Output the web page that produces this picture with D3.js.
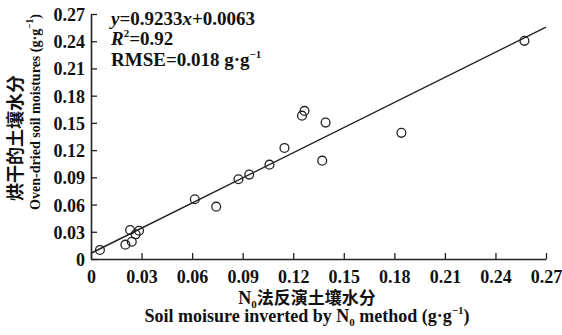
<!DOCTYPE html>
<html>
<head>
<meta charset="utf-8">
<script src="https://cdn.jsdelivr.net/npm/d3@7"></script>
<style>
  body { margin: 0; background: #fff; }
  svg text { font-family: "Liberation Serif", "Times New Roman", serif; fill: #111; }
  .cjk { font-family: "Noto Sans CJK SC", sans-serif; }
</style>
</head>
<body>
<div id="chart"></div>
<script>
// N0 inverted soil moisture (x) vs oven-dried soil moisture (y), g/g
var n0Moisture = [0.0053, 0.0204, 0.0232, 0.0242, 0.0265, 0.0285, 0.0616, 0.0743,
    0.0875, 0.0939, 0.1059, 0.1148, 0.1252, 0.1267, 0.1372, 0.1392, 0.1842, 0.2572];
var ovenMoisture = [0.0100, 0.0158, 0.0320, 0.0190, 0.0272, 0.0312, 0.0658, 0.0577,
    0.0879, 0.0930, 0.1040, 0.1224, 0.1580, 0.1632, 0.1084, 0.1503, 0.1390, 0.2404];
var tickValues = [0, 0.03, 0.06, 0.09, 0.12, 0.15, 0.18, 0.21, 0.24, 0.27];
var slope = 0.9233, intercept = 0.0063;

var margin = {top: 14, right: 16, bottom: 76, left: 91};
var width = 562 - margin.left - margin.right;
var height = 335 - margin.top - margin.bottom;

var svg = d3.select("#chart").append("svg")
    .attr("width", 562)
    .attr("height", 335);
var g = svg.append("g")
    .attr("transform", "translate(" + margin.left + "," + margin.top + ")");

var x = d3.scaleLinear().domain([0, 0.27]).range([0, width]);
var y = d3.scaleLinear().domain([0, 0.27]).range([height, 0]);

var fmt = function(d) { return d === 0 ? "0" : d3.format(".2f")(d); };

var xAxis = g.append("g")
    .attr("transform", "translate(0," + height + ")")
    .call(d3.axisBottom(x).tickValues(tickValues).tickFormat(fmt).tickSizeInner(-6).tickSizeOuter(0).tickPadding(11));
var yAxis = g.append("g")
    .call(d3.axisLeft(y).tickValues(tickValues).tickFormat(fmt).tickSizeInner(-6).tickSizeOuter(0).tickPadding(6));

[xAxis, yAxis].forEach(function(a) {
    a.select(".domain").attr("stroke", "#222").attr("stroke-width", 1.6);
    a.selectAll(".tick line").attr("stroke", "#222").attr("stroke-width", 1.3);
    a.selectAll(".tick text")
        .style("font-family", "'Liberation Serif', serif")
        .style("font-size", "18px")
        .style("font-weight", "bold")
        .attr("fill", "#111");
});
xAxis.selectAll(".tick text").attr("dy", "0.71em");
yAxis.selectAll(".tick text").attr("dy", "0.36em");

// regression line
g.append("line")
    .attr("x1", x(0)).attr("y1", y(intercept))
    .attr("x2", x(0.27)).attr("y2", y(slope * 0.27 + intercept))
    .attr("stroke", "#222")
    .attr("stroke-width", 1.5);

var points = n0Moisture.map(function(d, i) { return {x: d, y: ovenMoisture[i]}; });
g.selectAll(".pt")
    .data(points)
    .enter().append("circle")
    .attr("class", "pt")
    .attr("cx", function(d) { return x(d.x); })
    .attr("cy", function(d) { return y(d.y); })
    .attr("r", 4.4)
    .attr("fill", "none")
    .attr("stroke", "#222")
    .attr("stroke-width", 1.3);

// annotation
var ann = svg.append("g").attr("font-size", 19).attr("font-weight", "bold");
var t1 = ann.append("text").attr("x", 111).attr("y", 25);
t1.append("tspan").attr("font-style", "italic").text("y");
t1.append("tspan").text("=0.9233");
t1.append("tspan").attr("font-style", "italic").text("x");
t1.append("tspan").text("+0.0063");
var t2 = ann.append("text").attr("x", 111).attr("y", 45);
t2.append("tspan").attr("font-style", "italic").text("R");
t2.append("tspan").attr("font-size", 11).attr("dy", -8).text("2");
t2.append("tspan").attr("dy", 8).text("=0.92");
var t3 = ann.append("text").attr("x", 111).attr("y", 66);
t3.append("tspan").text("RMSE=0.018 g·g");
t3.append("tspan").attr("font-size", 11).attr("dy", -8).text("−1");

// x axis titles
var xt1 = svg.append("text")
    .attr("x", 307).attr("y", 304)
    .attr("text-anchor", "middle")
    .attr("font-size", 17);
xt1.append("tspan").attr("font-weight", "bold").attr("font-size", 18).text("N");
xt1.append("tspan").attr("font-size", 11).attr("dy", 4).attr("font-weight", "bold").text("0");
xt1.append("tspan").attr("class", "cjk").attr("dy", -4).attr("font-weight", "bold").text("法反演土壤水分");

var xt2 = svg.append("text")
    .attr("x", 307).attr("y", 322)
    .attr("text-anchor", "middle")
    .attr("font-size", 18)
    .attr("font-weight", "bold");
xt2.append("tspan").text("Soil moisure inverted by N");
xt2.append("tspan").attr("font-size", 11).attr("dy", 4).text("0");
xt2.append("tspan").attr("dy", -4).text(" method (g·g");
xt2.append("tspan").attr("font-size", 11).attr("dy", -8).text("−1");
xt2.append("tspan").attr("dy", 8).text(")");

// y axis titles
svg.append("text")
    .attr("class", "cjk")
    .attr("transform", "translate(22,138) rotate(-90)")
    .attr("text-anchor", "middle")
    .attr("font-size", 18)
    .attr("font-weight", "bold")
    .text("烘干的土壤水分");

var yt2 = svg.append("text")
    .attr("transform", "translate(40,112) rotate(-90)")
    .attr("text-anchor", "middle")
    .attr("font-size", 15)
    .attr("font-weight", "bold")
    .attr("textLength", 196)
    .attr("lengthAdjust", "spacingAndGlyphs");
yt2.append("tspan").text("Oven-dried soil moistures (g·g");
yt2.append("tspan").attr("font-size", 10).attr("dy", -7).text("−1");
yt2.append("tspan").attr("dy", 7).text(")");
</script>
</body>
</html>
